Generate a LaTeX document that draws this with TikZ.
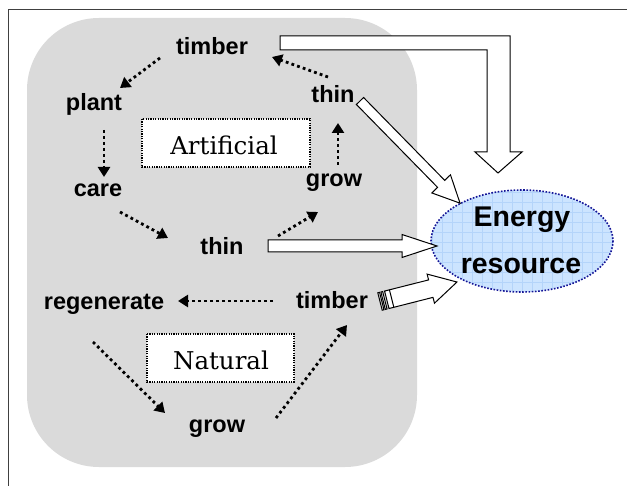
\documentclass[tikz,border=0pt]{standalone}
\usepackage{fontspec}
\setmainfont{Liberation Sans}
\newfontfamily\boxserif{DejaVu Serif}
\usetikzlibrary{arrows.meta,shapes.geometric,calc}
\definecolor{greyfill}{RGB}{218,218,218}
\definecolor{egblue}{RGB}{204,228,255}
\definecolor{eggrid}{RGB}{180,212,250}
\definecolor{egborder}{RGB}{20,20,150}
\tikzset{
  lbl/.style={font=\fontsize{23.5}{28}\selectfont\bfseries, inner sep=0pt, anchor=base},
  biglbl/.style={font=\fontsize{28.5}{34}\selectfont\bfseries, inner sep=0pt, anchor=base},
  typebox/.style={draw=black, fill=white, line width=1.2pt, dash pattern=on 1.2pt off 1.2pt},
  typetext/.style={font=\boxserif\fontsize{24.5}{29}\selectfont, inner sep=0pt, anchor=base},
  dotarr/.style={line width=2.8pt, dash pattern=on 2.8pt off 3.2pt, -{Triangle[length=10pt,width=12pt]}},
  blockarr/.style={draw=black, fill=white, line width=1pt, line join=miter},
}
\begin{document}
\begin{tikzpicture}[x=1pt,y=-1pt]
\useasboundingbox (0,0) rectangle (627,486);
% frame
\draw[black!75, line width=1pt] (8,486) -- (8,10) -- (627,10);
% grey region
\fill[greyfill, rounded corners=72pt] (27,18) rectangle (417,467);
% type boxes
\draw[typebox] (142,119) rectangle (310,167);
\draw[typebox] (147,334) rectangle (294,382);
\node[typetext] (art) at (224,155) {Artificial};
\node[typetext] (nat) at (221,370) {Natural};
% labels
\node[lbl] (timA) at (212,55) {timber};
\node[lbl] (plant) at (94,111) {plant};
\node[lbl] (care) at (98,197) {care};
\node[lbl] (thinM) at (222,255) {thin};
\node[lbl] (growA) at (334,187) {grow};
\node[lbl] (thinA) at (333,103) {thin};
\node[lbl] (regen) at (104,310) {regenerate};
\node[lbl] (timN) at (332,309) {timber};
\node[lbl] (growN) at (217,433) {grow};
% dotted connectors
\coordinate (c1a) at (160,58);  \coordinate (c1b) at (120,88);
\coordinate (c2a) at (104,130); \coordinate (c2b) at (104,177);
\coordinate (c3a) at (120,212); \coordinate (c3b) at (168,238);
\coordinate (c4a) at (278,236); \coordinate (c4b) at (318,212);
\coordinate (c5a) at (338,165); \coordinate (c5b) at (338,123);
\coordinate (c6a) at (328,77);  \coordinate (c6b) at (272,57);
\coordinate (c7a) at (273,301); \coordinate (c7b) at (178,301);
\coordinate (c8a) at (93,342);  \coordinate (c8b) at (165,413);
\coordinate (c9a) at (276,418); \coordinate (c9b) at (347,325);
\draw[dotarr] (c1a) -- (c1b);
\draw[dotarr] (c2a) -- (c2b);
\draw[dotarr] (c3a) -- (c3b);
\draw[dotarr] (c4a) -- (c4b);
\draw[dotarr] (c5a) -- (c5b);
\draw[dotarr] (c6a) -- (c6b);
\draw[dotarr] (c7a) -- (c7b);
\draw[dotarr] (c8a) -- (c8b);
\draw[dotarr] (c9a) -- (c9b);
% energy resource ellipse
\node[ellipse, minimum width=182pt, minimum height=102pt, inner sep=0pt] (E) at (522,241) {};
\begin{scope}
  \clip (522,241) ellipse [x radius=91, y radius=51];
  \fill[egblue] (430,189) rectangle (614,293);
  \foreach \gx in {432,442,...,612} \draw[eggrid, line width=0.6pt] (\gx,189) -- (\gx,293);
  \foreach \gy in {192,202,...,292} \draw[eggrid, line width=0.6pt] (430,\gy) -- (614,\gy);
\end{scope}
\draw[egborder, line width=1.6pt, dash pattern=on 1.6pt off 1.6pt] (522,241) ellipse [x radius=91, y radius=51];
\node[biglbl] (en1) at (522,227) {Energy};
\node[biglbl] (en2) at (521,274) {resource};
% block arrows
\path[blockarr] (280,36) -- (510,36) -- (510,152) -- (522,152) -- (498,173) -- (475,152) -- (487,152) -- (487,50) -- (280,50) -- cycle;
\begin{scope}[shift={(360,101)}, rotate=-45.6]
  \path[blockarr] (0,-5) -- (116,-5) -- (116,-13) -- (143,0) -- (116,13) -- (116,5) -- (0,5) -- cycle;
\end{scope}
\path[blockarr] (268,240) -- (402,240) -- (402,234.5) -- (437,246) -- (402,257.5) -- (402,252) -- (268,252) -- cycle;
\begin{scope}[shift={(380,301.5)}, rotate=14.2]
  \path[blockarr] (0,-9) rectangle (1.8,9);
  \path[blockarr] (3.2,-9) rectangle (5,9);
  \path[blockarr] (7,-9) -- (52.4,-9) -- (52.4,-15) -- (79.4,0) -- (52.4,15) -- (52.4,9) -- (7,9) -- cycle;
  \draw[line width=1pt] (12,-9) -- (12,9);
\end{scope}
\end{tikzpicture}
\end{document}
